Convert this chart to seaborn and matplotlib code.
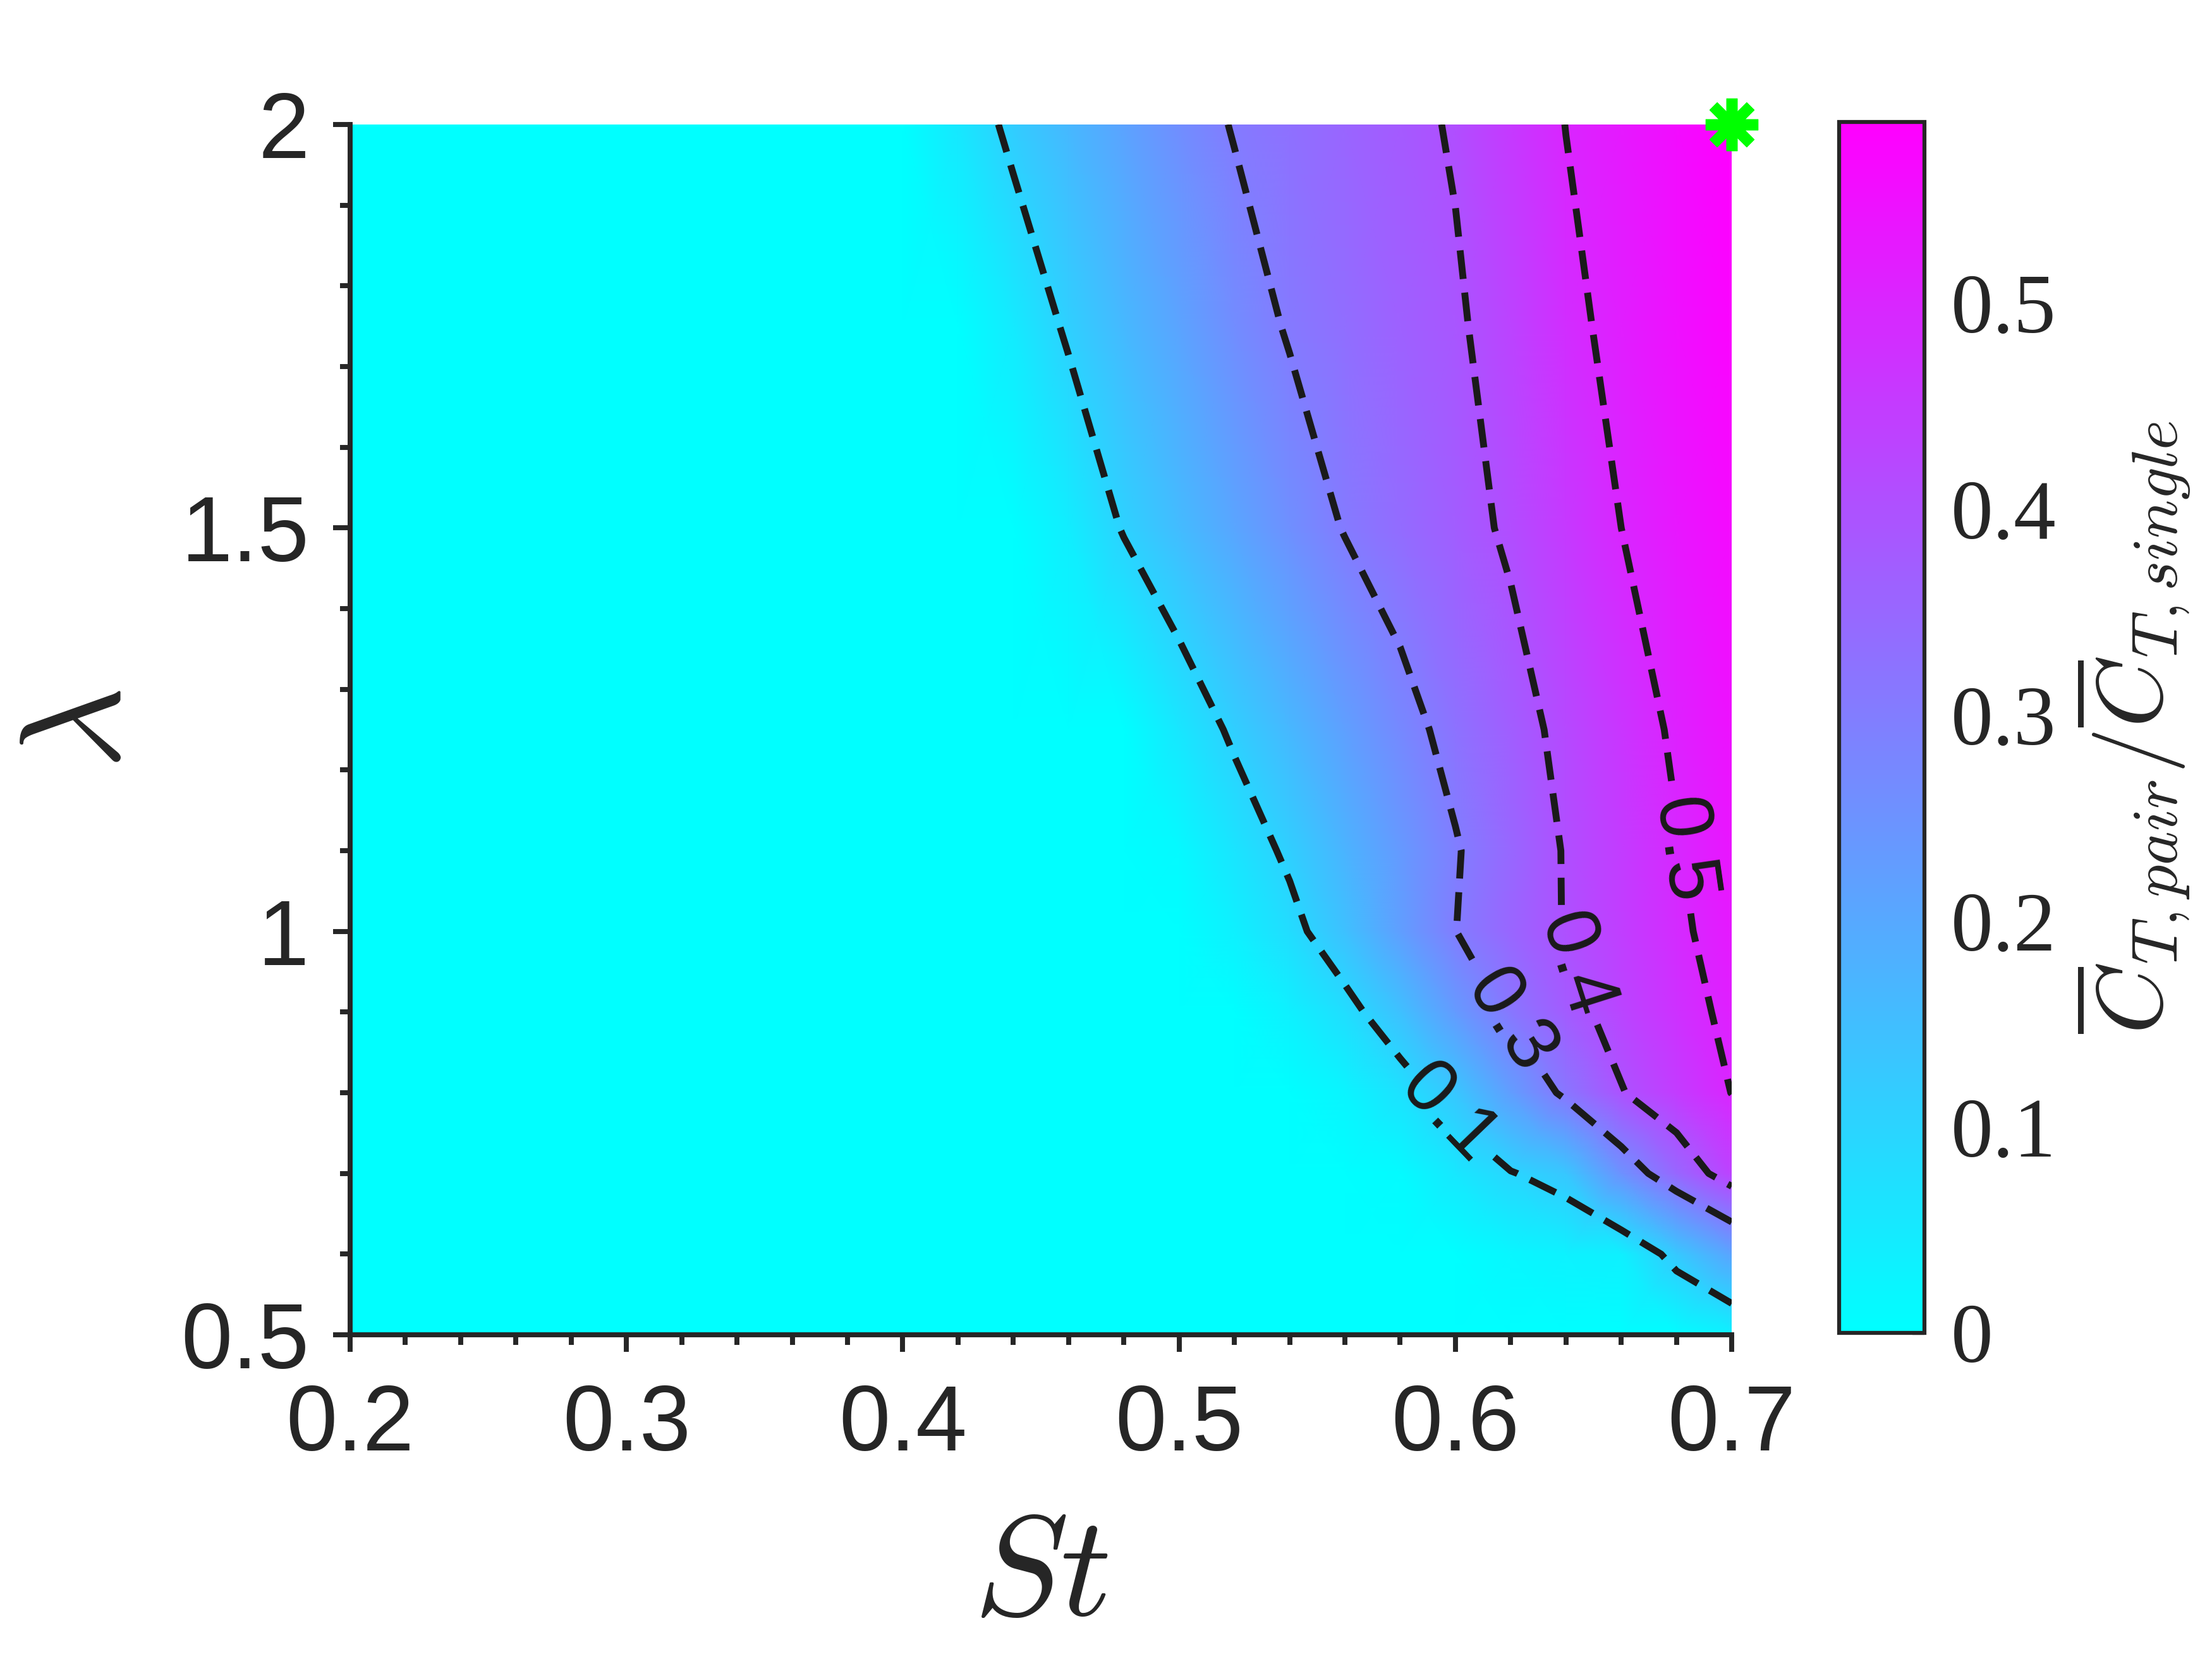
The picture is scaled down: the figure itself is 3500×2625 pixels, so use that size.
import numpy as np
import matplotlib
matplotlib.use("Agg")
import matplotlib.pyplot as plt
from matplotlib.ticker import MultipleLocator
import seaborn as sns

# ---------------- data ----------------
st = [0.20, 0.40, 0.42, 0.44, 0.46, 0.48, 0.50, 0.52, 0.54, 0.56,
      0.58, 0.60, 0.62, 0.64, 0.66, 0.68, 0.70]
lam = [0.5, 0.6, 0.7, 0.8, 0.9, 1.0, 1.1, 1.25, 1.5, 1.75, 2.0]

ct_l050 = [0, 0, 0, 0, 0, 0, 0, 0, 0, 0, 0, 0, 0, 0, 0, 0.005, 0.030]
ct_l060 = [0, 0, 0, 0, 0, 0, 0, 0, 0, 0, 0, 0, 0.020, 0.030, 0.035, 0.125, 0.210]
ct_l070 = [0, 0, 0, 0, 0, 0, 0, 0, 0, 0, 0.011, 0.053, 0.096, 0.130, 0.252, 0.350, 0.436]
ct_l080 = [0, 0, 0, 0, 0, 0, 0, 0, 0, 0.023, 0.068, 0.129, 0.224, 0.316, 0.396, 0.449, 0.501]
ct_l090 = [0, 0, 0, 0, 0, 0, 0, 0, 0.033, 0.078, 0.143, 0.230, 0.313, 0.375, 0.428, 0.474, 0.515]
ct_l100 = [0, 0, 0, 0, 0, 0, 0, 0.034, 0.080, 0.143, 0.222, 0.299, 0.353, 0.404, 0.445, 0.487, 0.530]
ct_l110 = [0, 0, 0, 0, 0, 0, 0.012, 0.061, 0.112, 0.173, 0.233, 0.294, 0.351, 0.405, 0.450, 0.496, 0.538]
ct_l125 = [0, 0, 0, 0, 0, 0, 0.056, 0.111, 0.165, 0.219, 0.273, 0.324, 0.371, 0.419, 0.465, 0.510, 0.548]
ct_l150 = [0, 0, 0, 0, 0.040, 0.105, 0.155, 0.205, 0.255, 0.304, 0.339, 0.374, 0.411, 0.456, 0.500, 0.533, 0.565]
ct_l175 = [0, 0, 0, 0.048, 0.110, 0.161, 0.211, 0.262, 0.307, 0.335, 0.363, 0.390, 0.433, 0.483, 0.519, 0.549, 0.578]
ct_l200 = [0, 0, 0.054, 0.117, 0.165, 0.213, 0.261, 0.305, 0.330, 0.354, 0.379, 0.407, 0.455, 0.501, 0.530, 0.559, 0.588]

contour_levels = [0.1, 0.3, 0.4, 0.5]
contour_texts = ["0.1", "0.3", "0.4", "0.5"]
label_st = [0.600, 0.618, 0.6405, 0.6826]
label_lam = [0.781, 0.884, 0.954, 1.10]

star_st = [0.7]
star_lam = [2.0]

xticks = [0.2, 0.3, 0.4, 0.5, 0.6, 0.7]
xticklabels = ["0.2", "0.3", "0.4", "0.5", "0.6", "0.7"]
yticks = [0.5, 1.0, 1.5, 2.0]
yticklabels = ["0.5", "1", "1.5", "2"]
cbticks = [0, 0.1, 0.2, 0.3, 0.4, 0.5]
cbticklabels = ["0", "0.1", "0.2", "0.3", "0.4", "0.5"]

# ---------------- style ----------------
sns.set_theme(style="ticks")
plt.rcParams["font.family"] = ["Liberation Sans", "DejaVu Sans"]
plt.rcParams["mathtext.fontset"] = "cm"
plt.rcParams["lines.dashed_pattern"] = [4.2, 2.0]
plt.rcParams["axes.edgecolor"] = "#262626"
plt.rcParams["xtick.color"] = "#262626"
plt.rcParams["ytick.color"] = "#262626"

AX_COL = "#262626"

Z = np.array([ct_l050, ct_l060, ct_l070, ct_l080, ct_l090, ct_l100,
              ct_l110, ct_l125, ct_l150, ct_l175, ct_l200])
X, Y = np.meshgrid(np.array(st), np.array(lam))

fig = plt.figure(figsize=(3500 / 300, 2625 / 300), dpi=300)
fig.patch.set_facecolor("white")
ax = fig.add_axes([0.1583, 0.1954, 0.6246, 0.7296])
cax = fig.add_axes([0.8315, 0.1966, 0.0385, 0.7299])

mesh = ax.pcolormesh(X, Y, Z, shading="gouraud", cmap="cool",
                     vmin=0.0, vmax=Z.max(), rasterized=True)

cs = ax.contour(X, Y, Z, levels=contour_levels, colors="k",
                linewidths=2.6, linestyles="dashed")
ax.clabel(cs, contour_levels, fmt=dict(zip(contour_levels, contour_texts)),
          fontsize=29, inline=True, inline_spacing=16,
          manual=list(zip(label_st, label_lam)))

ax.plot(star_st, star_lam, linestyle="none", marker=(8, 2, 0),
        markersize=20, markeredgewidth=4.2, color=(0, 1, 0),
        clip_on=False, zorder=10)

ax.set_xlim(0.2, 0.7)
ax.set_ylim(0.5, 2.0)
ax.set_xticks(xticks)
ax.set_xticklabels(xticklabels)
ax.set_yticks(yticks)
ax.set_yticklabels(yticklabels)
ax.xaxis.set_minor_locator(MultipleLocator(0.02))
ax.yaxis.set_minor_locator(MultipleLocator(0.1))
ax.tick_params(which="major", direction="out", length=6.5, width=1.9,
               labelsize=35, pad=12, colors=AX_COL)
ax.tick_params(which="minor", direction="out", length=3.8, width=1.9,
               colors=AX_COL)
ax.tick_params(axis="y", which="major", pad=9)
for s in ["top", "right"]:
    ax.spines[s].set_visible(False)
for s in ["left", "bottom"]:
    ax.spines[s].set_linewidth(1.9)
    ax.spines[s].set_color(AX_COL)

ax.set_xlabel(r"$St$", fontsize=54, color=AX_COL, labelpad=16)
ax.set_ylabel(r"$\lambda$", fontsize=54, color=AX_COL, labelpad=12)

cb = fig.colorbar(mesh, cax=cax)
cb.set_ticks(cbticks)
cb.set_ticklabels(cbticklabels)
cb.outline.set_linewidth(1.5)
cb.outline.set_edgecolor(AX_COL)
cax.tick_params(direction="in", length=4.5, width=1.5, labelsize=32,
                pad=10, colors=AX_COL, right=True, left=False)
cax.minorticks_off()
for t in cax.get_yticklabels():
    t.set_fontfamily(["Liberation Serif", "DejaVu Serif"])
cax.set_ylabel(r"$\overline{C}_{T,pair}/\overline{C}_{T,single}$",
               fontsize=35, color=AX_COL, labelpad=6)

fig.savefig("out.png", dpi=300, facecolor="white")
